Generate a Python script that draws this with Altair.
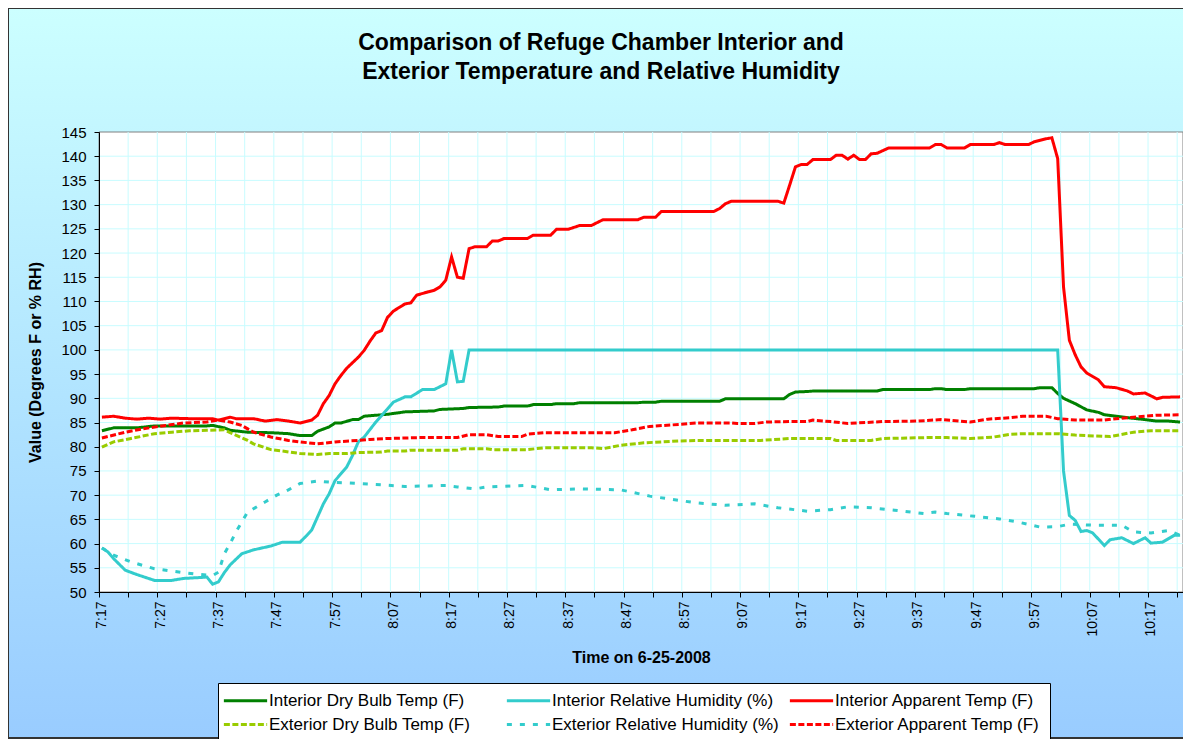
import altair as alt
import pandas as pd

FONT = "Liberation Sans"

# ---------------- data (minute offset from 7:17, value) ----------------
series_names = [
    "Interior Dry Bulb Temp (F)",
    "Interior Relative Humidity (%)",
    "Interior Apparent Temp (F)",
    "Exterior Dry Bulb Temp (F)",
    "Exterior Relative Humidity (%)",
    "Exterior Apparent Temp (F)",
]
series_colors = ["#008000", "#33CCCC", "#FF0000", "#99CC00", "#33CCCC", "#FF0000"]
series_dashes = [[1, 0], [1, 0], [1, 0], [6, 2.5], [5, 8], [6, 2.5]]

x_labels = ["7:17", "7:27", "7:37", "7:47", "7:57", "8:07", "8:17", "8:27", "8:37",
            "8:47", "8:57", "9:07", "9:17", "9:27", "9:37", "9:47", "9:57", "10:07", "10:17"]
y_ticks = list(range(50, 150, 5))

idb_t = [0, 2, 6, 9, 18, 19, 21, 22, 25, 29, 32, 34, 36, 37, 39, 40, 41, 43, 44, 45, 49, 52, 57, 58,
         62, 63, 68, 69, 73, 74, 77, 78, 81, 82, 92, 93, 95, 96, 106, 107, 117, 118, 119, 121, 122,
         133, 134, 142, 143, 144, 145, 148, 149, 160, 161, 163, 164, 165, 167, 169, 171, 172, 174,
         176, 179, 181, 183, 185]
idb_v = [83.3, 83.9, 83.9, 84.3, 84.3, 84.4, 83.9, 83.4, 83.0, 82.9, 82.7, 82.3, 82.3, 83.2, 84.1,
         84.9, 84.9, 85.6, 85.6, 86.3, 86.7, 87.2, 87.4, 87.7, 87.9, 88.1, 88.2, 88.4, 88.4, 88.7,
         88.7, 88.9, 88.9, 89.1, 89.1, 89.2, 89.2, 89.4, 89.4, 89.9, 89.9, 90.8, 91.3, 91.4, 91.5,
         91.5, 91.8, 91.8, 92.0, 92.0, 91.8, 91.8, 92.0, 92.0, 92.2, 92.2, 91.0, 90.0, 88.9, 87.6,
         87.1, 86.6, 86.3, 86.0, 85.6, 85.3, 85.3, 85.1]

irh_t = [0, 1, 2, 4, 6, 9, 12, 14, 17, 18, 19, 20, 21, 22, 24, 26, 29, 31, 34, 35, 36, 37, 38, 39,
         40, 42, 43, 44, 45, 47, 49, 50, 52, 53, 55, 57, 59, 60, 61, 62, 63, 164, 165, 166, 167,
         168, 169, 170, 172, 173, 175, 177, 179, 180, 182, 184, 185]
irh_v = [59.1, 58.3, 56.9, 54.5, 53.6, 52.4, 52.4, 52.8, 53.0, 53.1, 51.6, 52.1, 54.0, 55.6, 57.9,
         58.7, 59.5, 60.3, 60.3, 61.5, 62.8, 65.5, 68.2, 70.3, 73.0, 75.8, 78.2, 81.0, 82.0, 85.1,
         87.8, 89.2, 90.3, 90.3, 91.8, 91.8, 93.0, 100.0, 93.4, 93.5, 100.0, 100.0, 75.0, 65.8,
         64.8, 62.5, 62.7, 62.2, 59.6, 60.8, 61.2, 60.0, 61.2, 60.1, 60.3, 61.7, 61.7]

iat_t = [0, 2, 4, 6, 8, 10, 12, 15, 19, 20, 22, 23, 26, 28, 30, 32, 34, 36, 37, 38, 39, 40, 41, 42,
         44, 45, 46, 47, 48, 49, 50, 52, 53, 54, 56, 57, 58, 59, 60, 61, 62, 63, 64, 66, 67, 68, 69,
         73, 74, 77, 78, 80, 82, 84, 86, 92, 93, 95, 96, 105, 106, 107, 108, 116, 117, 118, 119,
         120, 121, 122, 125, 126, 127, 128, 129, 130, 131, 132, 133, 135, 142, 143, 144, 145, 148,
         149, 153, 154, 155, 159, 160, 162, 163, 164, 165, 166, 167, 168, 169, 170, 171, 172, 174,
         176, 177, 179, 181, 182, 185]
iat_v = [86.1, 86.3, 85.9, 85.7, 85.9, 85.7, 85.9, 85.8, 85.8, 85.5, 86.1, 85.8, 85.8, 85.3, 85.6,
         85.3, 84.9, 85.5, 86.5, 88.9, 90.6, 93.0, 94.7, 96.2, 98.5, 99.9, 101.8, 103.5, 104.0,
         106.7, 108.0, 109.5, 109.7, 111.3, 112.0, 112.3, 113.0, 114.4, 119.2, 115.0, 114.8, 120.9,
         121.3, 121.3, 122.5, 122.5, 123.0, 123.0, 123.7, 123.7, 124.9, 124.9, 125.7, 125.7, 126.9,
         126.9, 127.4, 127.4, 128.6, 128.6, 129.2, 130.2, 130.7, 130.7, 130.3, 134.0, 137.8, 138.3,
         138.3, 139.3, 139.3, 140.2, 140.2, 139.4, 140.2, 139.3, 139.3, 140.5, 140.6, 141.7, 141.7,
         142.4, 142.4, 141.7, 141.7, 142.4, 142.4, 142.8, 142.4, 142.4, 143.0, 143.6, 143.8, 139.5,
         113.0, 102.0, 99.0, 96.5, 95.2, 94.5, 93.8, 92.4, 92.2, 91.5, 90.9, 91.1, 89.9, 90.2, 90.3]

edb_t = [0, 2, 5, 9, 12, 15, 18, 21, 22, 25, 26, 29, 31, 34, 37, 39, 42, 44, 48, 49, 52, 53, 61, 62,
         66, 67, 73, 76, 84, 86, 89, 93, 96, 99, 102, 113, 118, 125, 126, 132, 134, 142, 145, 149,
         153, 156, 158, 164, 167, 173, 177, 180, 185]
edb_v = [79.9, 81.0, 81.7, 82.7, 83.0, 83.3, 83.4, 83.5, 82.9, 81.3, 80.6, 79.4, 79.1, 78.6, 78.4,
         78.6, 78.6, 78.8, 78.9, 79.1, 79.1, 79.3, 79.3, 79.6, 79.6, 79.4, 79.4, 79.8, 79.8, 79.6,
         80.3, 80.8, 81.0, 81.2, 81.3, 81.3, 81.7, 81.7, 81.3, 81.3, 81.7, 81.9, 81.9, 81.7, 82.0,
         82.6, 82.7, 82.7, 82.4, 82.1, 83.0, 83.3, 83.3]

erh_t = [0, 2, 5, 9, 14, 17, 19, 20, 21, 22, 23, 25, 28, 30, 32, 34, 37, 39, 44, 47, 52, 59, 61, 64,
         66, 73, 77, 82, 89, 91, 94, 98, 102, 107, 112, 116, 121, 125, 128, 132, 136, 141, 143, 145,
         150, 154, 157, 161, 164, 166, 170, 175, 177, 180, 183, 185]
erh_v = [59.1, 57.6, 56.2, 54.8, 54.0, 53.6, 53.4, 54.1, 57.9, 60.0, 62.4, 66.5, 68.6, 70.0, 71.1,
         72.4, 72.9, 72.7, 72.4, 72.2, 71.8, 72.0, 71.7, 71.3, 71.7, 72.0, 71.1, 71.3, 71.1, 70.6,
         69.8, 69.1, 68.4, 67.9, 68.2, 67.4, 66.7, 67.0, 67.6, 67.4, 66.9, 66.2, 66.5, 66.2, 65.6,
         65.1, 64.5, 63.4, 63.5, 64.0, 63.8, 63.8, 62.4, 62.2, 62.7, 61.7]

eat_t = [0, 4, 7, 11, 14, 18, 20, 22, 24, 26, 29, 32, 34, 37, 40, 44, 46, 49, 55, 61, 63, 66, 68, 72,
         73, 76, 88, 91, 94, 99, 102, 108, 109, 112, 114, 118, 121, 122, 125, 128, 131, 134, 140,
         144, 147, 149, 152, 156, 158, 162, 164, 167, 172, 174, 177, 181, 185]
eat_v = [81.8, 83.0, 83.7, 84.4, 84.9, 85.1, 85.5, 85.1, 84.4, 83.0, 82.0, 81.3, 81.0, 80.6, 81.0,
         81.3, 81.5, 81.7, 81.9, 81.9, 82.5, 82.5, 82.1, 82.1, 82.6, 82.9, 82.9, 83.5, 84.2, 84.6,
         84.9, 84.9, 84.8, 84.8, 85.1, 85.2, 85.2, 85.5, 85.2, 84.8, 85.0, 85.2, 85.3, 85.6, 85.3,
         85.1, 85.7, 86.0, 86.3, 86.3, 85.8, 85.5, 85.5, 85.8, 86.1, 86.5, 86.6]

title_lines = ["Comparison of Refuge Chamber Interior and",
               "Exterior Temperature and Relative Humidity"]
x_title = "Time on 6-25-2008"
y_title = "Value (Degrees F or % RH)"

# ---------------- build table ----------------
all_t = [idb_t, irh_t, iat_t, edb_t, erh_t, eat_t]
all_v = [idb_v, irh_v, iat_v, edb_v, erh_v, eat_v]
rows = []
for name, ts, vs in zip(series_names, all_t, all_v):
    for t, v in zip(ts, vs):
        rows.append({"t": t, "v": v, "series": name})
df = pd.DataFrame(rows)

N_CAT = 186
W, H = 1084, 460
PAD_L, PAD_T, PAD_R, PAD_B = 91, 124, 0, 147
GRID = "#C8FCFF"

xscale = alt.Scale(domain=[-0.5, N_CAT - 0.5], nice=False, zero=False)
yscale = alt.Scale(domain=[50, 145], nice=False, zero=False)

x_bounds = [k * 5 - 0.5 for k in range(38)]  # category boundaries every 5 minutes
label_list = "[" + ",".join("'" + s + "'" for s in x_labels) + "]"
label_expr = ("(datum.value + 0.5) % 10 == 0 ? " + label_list +
              "[(datum.value + 0.5) / 10] : ''")

one = pd.DataFrame({"k": [0]})

grad = alt.LinearGradient(
    gradient="linear",
    stops=[alt.GradientStop(color="#CCFFFF", offset=0),
           alt.GradientStop(color="#99CCFF", offset=1)],
    x1=0, x2=0, y1=0, y2=1,
)

xaxis = alt.Axis(
    values=x_bounds, labelExpr=label_expr, labelAngle=270, labelOffset=W / N_CAT / 2,
    labelPadding=4, tickSize=5, tickColor="black", domainColor="black", labelFont=FONT,
    labelFontSize=14, labelColor="black", labelOverlap=False, labelFlush=False, grid=False,
    titleFont=FONT, titleFontSize=16, titleFontWeight="bold", titleColor="black",
    titleY=65, titleBaseline="middle", zindex=1,
)
yaxis = alt.Axis(
    values=y_ticks, tickSize=5, tickColor="black", domainColor="black", labelFont=FONT,
    labelFontSize=15, labelColor="black", labelPadding=8, grid=False,
    titleFont=FONT, titleFontSize=16, titleFontWeight="bold", titleColor="black",
    titleX=-64, titleY=H / 2, titleAngle=270, titleAlign="center", titleBaseline="middle",
    zindex=1,
)

bg = alt.Chart(one).mark_rect(fill=grad, stroke="#333333", strokeWidth=2).encode(
    x=alt.value(-PAD_L), x2=alt.value(W + 20),
    y=alt.value(-PAD_T), y2=alt.value(H + PAD_B - 1),
)
plot_bg = alt.Chart(one).mark_rect(fill="white", stroke="#808080", strokeWidth=1).encode(
    x=alt.value(0), x2=alt.value(W), y=alt.value(0), y2=alt.value(H),
)

xgrid = alt.Chart(pd.DataFrame({"t": x_bounds[1:]})).mark_rule(color=GRID, strokeWidth=1).encode(
    x=alt.X("t:Q", scale=xscale, axis=xaxis, title=x_title)
)
ygrid = alt.Chart(pd.DataFrame({"v": y_ticks[1:-1]})).mark_rule(color=GRID, strokeWidth=1).encode(
    y=alt.Y("v:Q", scale=yscale, axis=yaxis, title=y_title)
)

title1 = alt.Chart(one).mark_text(font=FONT, fontSize=23, fontWeight="bold", color="black",
                                  align="center", baseline="middle").encode(
    x=alt.value(502), y=alt.value(-89), text=alt.value(title_lines[0]))
title2 = alt.Chart(one).mark_text(font=FONT, fontSize=23, fontWeight="bold", color="black",
                                  align="center", baseline="middle").encode(
    x=alt.value(502), y=alt.value(-60), text=alt.value(title_lines[1]))

leg = alt.Legend(
    title=None, orient="none", legendX=119, legendY=551, direction="horizontal", columns=3,
    symbolType="M-4,0H4", symbolSize=117, symbolStrokeWidth=3, symbolOffset=10,
    labelFont=FONT, labelFontSize=17, labelColor="black", labelLimit=0, labelOffset=15,
    fillColor="white", strokeColor="black", padding=9, columnPadding=4, rowPadding=6,
    gridAlign="all", zindex=1,
)

lines = alt.Chart(df).mark_line(strokeWidth=3).encode(
    x=alt.X("t:Q", scale=xscale, axis=xaxis, title=x_title),
    y=alt.Y("v:Q", scale=yscale, axis=yaxis, title=y_title),
    color=alt.Color("series:N", scale=alt.Scale(domain=series_names, range=series_colors), legend=leg),
    strokeDash=alt.StrokeDash("series:N", scale=alt.Scale(domain=series_names, range=series_dashes),
                              legend=leg),
)

chart = alt.layer(bg, plot_bg, xgrid, ygrid, title1, title2, lines).properties(
    width=W, height=H,
    padding={"left": PAD_L, "top": PAD_T, "right": PAD_R, "bottom": PAD_B},
    autosize=alt.AutoSizeParams(type="none"),
    background="white",
).configure_view(stroke=None)

chart.save("out.html", embed_options={"renderer": "svg", "actions": False})
